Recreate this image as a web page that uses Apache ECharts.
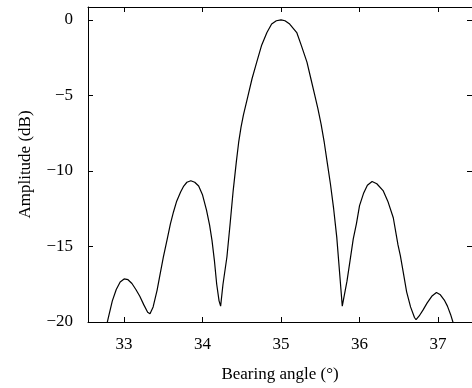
<!DOCTYPE html>
<html>
<head>
<meta charset="utf-8">
<script src="https://cdn.jsdelivr.net/npm/echarts@6/dist/echarts.min.js"></script>
<style>
html, body { margin: 0; padding: 0; background: #fff; }
#main { width: 472px; height: 388px; }
</style>
</head>
<body>
<div id="main"></div>
<script>
// bearing angle (deg)
var angles = [32.76, 32.80, 32.85, 32.90, 32.95, 33.00, 33.05, 33.10, 33.15, 33.20,
	33.25, 33.30, 33.33, 33.37, 33.42, 33.46, 33.50, 33.55, 33.59, 33.63,
	33.67, 33.72, 33.76, 33.80, 33.85, 33.90, 33.95, 34.00, 34.05, 34.09,
	34.12, 34.15, 34.18, 34.21, 34.23, 34.26, 34.31, 34.35, 34.39, 34.43,
	34.46, 34.49, 34.52, 34.58, 34.63, 34.69, 34.75, 34.82, 34.88, 34.94,
	35.00, 35.05, 35.11, 35.20, 35.26, 35.33, 35.38, 35.43, 35.47, 35.51,
	35.55, 35.59, 35.63, 35.67, 35.71, 35.75, 35.78, 35.84, 35.88, 35.92,
	35.96, 36.00, 36.05, 36.10, 36.16, 36.22, 36.30, 36.36, 36.43, 36.49,
	36.52, 36.56, 36.60, 36.65, 36.70, 36.72, 36.76, 36.81, 36.86, 36.92,
	36.98, 37.03, 37.08, 37.12, 37.16, 37.19, 37.22];
// amplitude (dB)
var amplitude = [-20.6, -19.7, -18.6, -17.85, -17.35, -17.15, -17.2, -17.45, -17.85, -18.3,
	-18.85, -19.35, -19.45, -19.0, -17.9, -16.8, -15.7, -14.5, -13.5, -12.7,
	-12.0, -11.4, -11.0, -10.75, -10.65, -10.75, -11.0, -11.6, -12.6, -13.6,
	-14.6, -15.9, -17.5, -18.6, -18.95, -17.5, -15.7, -13.55, -11.3, -9.4,
	-8.1, -7.1, -6.3, -5.0, -3.9, -2.8, -1.72, -0.84, -0.28, -0.06,
	0, -0.06, -0.28, -0.84, -1.72, -2.8, -3.9, -5.0, -5.9, -6.9,
	-8.1, -9.5, -10.9, -12.5, -14.4, -17.0, -18.95, -17.3, -15.9, -14.5,
	-13.5, -12.3, -11.5, -10.95, -10.7, -10.85, -11.3, -12.0, -13.1, -14.9,
	-15.6, -16.8, -18.0, -19.0, -19.7, -19.85, -19.6, -19.2, -18.75, -18.3,
	-18.05, -18.2, -18.55, -18.95, -19.5, -20.0, -20.6];
var xTicks = [33, 34, 35, 36, 37];
var yTicks = [0, -5, -10, -15, -20];

var font = 'Liberation Serif';
var myChart = echarts.init(document.getElementById('main'));

function fmt(v) {
	return v < 0 ? '\u2212' + Math.abs(v) : String(v);
}

var xCommon = {
	type: 'value',
	min: 32.54,
	max: 37.433,
	splitLine: { show: false },
	axisLine: { show: true, onZero: false, lineStyle: { color: '#000', width: 1 } },
	axisTick: { show: true, inside: true, length: 5, customValues: xTicks, lineStyle: { color: '#000' } }
};
var yCommon = {
	type: 'value',
	min: -20,
	max: 0.85,
	splitLine: { show: false },
	axisLine: { show: true, onZero: false, lineStyle: { color: '#000', width: 1 } },
	axisTick: { show: true, inside: true, length: 5, customValues: yTicks, lineStyle: { color: '#000' } }
};

var option = {
	animation: false,
	backgroundColor: '#fff',
	grid: { left: 88, top: 7, right: 0, bottom: 63 },
	xAxis: [
		Object.assign({}, xCommon, {
			position: 'bottom',
			name: 'Bearing angle (\u00b0)',
			nameLocation: 'middle',
			nameGap: 44,
			nameTextStyle: { fontFamily: font, fontSize: 17, color: '#000' },
			axisLabel: { customValues: xTicks, margin: 14, fontFamily: font, fontSize: 17, color: '#000', formatter: fmt }
		}),
		Object.assign({}, xCommon, {
			position: 'top',
			axisLabel: { show: false }
		})
	],
	yAxis: [
		Object.assign({}, yCommon, {
			position: 'left',
			name: 'Amplitude (dB)',
			nameLocation: 'middle',
			nameGap: 54,
			nameTextStyle: { fontFamily: font, fontSize: 17, color: '#000' },
			axisLabel: { customValues: yTicks, margin: 15, fontFamily: font, fontSize: 17, color: '#000', formatter: fmt }
		}),
		Object.assign({}, yCommon, {
			position: 'right',
			axisLabel: { show: false }
		})
	],
	series: [{
		type: 'line',
		data: angles.map(function(a, i) {
			return [a, amplitude[i]];
		}),
		showSymbol: false,
		clip: true,
		lineStyle: { color: '#000', width: 1.2 }
	}]
};
myChart.setOption(option);
</script>
</body>
</html>
